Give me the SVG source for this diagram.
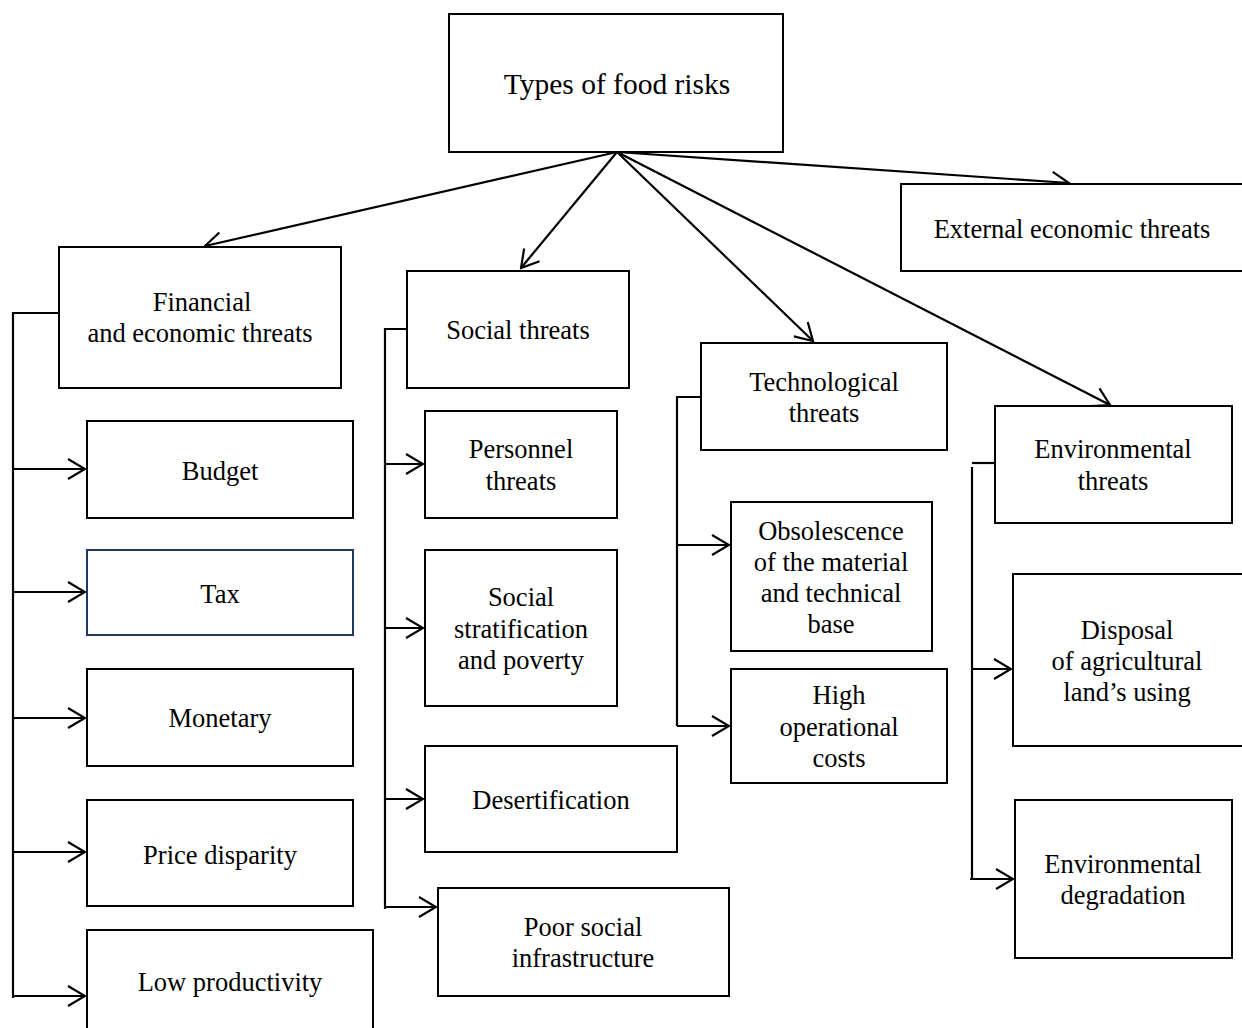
<svg xmlns="http://www.w3.org/2000/svg" width="1242" height="1028" viewBox="0 0 1242 1028">
<style>
.box{fill:#fff;stroke:#000;stroke-width:2}
.tax{fill:#fff;stroke:#1f3864;stroke-width:2}
text{font-family:'Liberation Serif','Tinos','DejaVu Serif',serif;font-size:26.5px;fill:#000;text-anchor:middle}
.title{font-size:29.5px}
.ln{stroke:#000;stroke-width:2.2;fill:none}
.ar{stroke:#000;stroke-width:2.2;fill:none;marker-end:url(#ah)}
</style>
<defs>
<marker id="ah" viewBox="0 0 20 22" markerWidth="20" markerHeight="22" refX="18" refY="11" orient="auto" markerUnits="userSpaceOnUse">
<path d="M1,1 L18,11 L1,21" fill="none" stroke="#000" stroke-width="2.2"/>
</marker>
</defs>
<rect width="1242" height="1028" fill="#fff"/>

<g id="connectors">
<line class="ar" x1="617" y1="152" x2="205" y2="246"/>
<line class="ar" x1="617" y1="152" x2="521" y2="268"/>
<line class="ar" x1="617" y1="152" x2="813" y2="341"/>
<line class="ar" x1="617" y1="152" x2="1110" y2="405"/>
<line class="ar" x1="617" y1="152" x2="1069" y2="183"/>

<polyline class="ln" points="59,313 13,313 13,998"/>
<line class="ar" x1="13" y1="469" x2="85" y2="469"/>
<line class="ar" x1="13" y1="592" x2="85" y2="592"/>
<line class="ar" x1="13" y1="718" x2="85" y2="718"/>
<line class="ar" x1="13" y1="852" x2="85" y2="852"/>
<line class="ar" x1="13" y1="996" x2="85" y2="996"/>

<polyline class="ln" points="407,329 385,329 385,909"/>
<line class="ar" x1="385" y1="464" x2="423" y2="464"/>
<line class="ar" x1="385" y1="628" x2="423" y2="628"/>
<line class="ar" x1="385" y1="799" x2="423" y2="799"/>
<line class="ar" x1="385" y1="907" x2="436" y2="907"/>

<polyline class="ln" points="701,397 677,397 677,726"/>
<line class="ar" x1="677" y1="545" x2="729" y2="545"/>
<line class="ar" x1="677" y1="726" x2="729" y2="726"/>

<line class="ln" x1="972" y1="463" x2="997" y2="463"/>
<line class="ln" x1="972" y1="467" x2="972" y2="879"/>
<line class="ar" x1="972" y1="669" x2="1011" y2="669"/>
<line class="ar" x1="970" y1="879" x2="1013" y2="879"/>
</g>

<g id="n-root"><rect class="box" x="449" y="14" width="334" height="138"/><text class="title" x="617" y="94">Types of food risks</text></g>
<g id="n-external"><rect class="box" x="901" y="184" width="360" height="87"/><text x="1072" y="238">External economic threats</text></g>
<g id="n-financial"><rect class="box" x="59" y="247" width="282" height="141"/><text x="202" y="311">Financial</text><text x="200" y="342">and economic threats</text></g>
<g id="n-social"><rect class="box" x="407" y="271" width="222" height="117"/><text x="518" y="339">Social threats</text></g>
<g id="n-tech"><rect class="box" x="701" y="343" width="246" height="107"/><text x="824" y="391">Technological</text><text x="824" y="422">threats</text></g>
<g id="n-env"><rect class="box" x="995" y="406" width="237" height="117"/><text x="1113" y="458">Environmental</text><text x="1113" y="490">threats</text></g>

<g id="n-budget"><rect class="box" x="87" y="421" width="266" height="97"/><text x="220" y="480">Budget</text></g>
<g id="n-tax"><rect class="tax" x="87" y="550" width="266" height="85"/><text x="220" y="603">Tax</text></g>
<g id="n-monetary"><rect class="box" x="87" y="669" width="266" height="97"/><text x="220" y="727">Monetary</text></g>
<g id="n-price"><rect class="box" x="87" y="800" width="266" height="106"/><text x="220" y="864">Price disparity</text></g>
<g id="n-lowprod"><rect class="box" x="87" y="930" width="286" height="120"/><text x="230" y="991">Low productivity</text></g>

<g id="n-personnel"><rect class="box" x="425" y="411" width="192" height="107"/><text x="521" y="458">Personnel</text><text x="521" y="490">threats</text></g>
<g id="n-strat"><rect class="box" x="425" y="550" width="192" height="156"/><text x="521" y="606">Social</text><text x="521" y="638">stratification</text><text x="521" y="669">and poverty</text></g>
<g id="n-desert"><rect class="box" x="425" y="746" width="252" height="106"/><text x="551" y="809">Desertification</text></g>
<g id="n-poor"><rect class="box" x="438" y="888" width="291" height="108"/><text x="583" y="936">Poor social</text><text x="583" y="967">infrastructure</text></g>

<g id="n-obsol"><rect class="box" x="731" y="502" width="201" height="149"/><text x="831" y="540">Obsolescence</text><text x="831" y="571">of the material</text><text x="831" y="602">and technical</text><text x="831" y="633">base</text></g>
<g id="n-high"><rect class="box" x="731" y="669" width="216" height="114"/><text x="839" y="704">High</text><text x="839" y="736">operational</text><text x="839" y="767">costs</text></g>

<g id="n-disposal"><rect class="box" x="1013" y="574" width="250" height="172"/><text x="1127" y="639">Disposal</text><text x="1127" y="670">of agricultural</text><text x="1127" y="701">land’s using</text></g>
<g id="n-envdeg"><rect class="box" x="1015" y="800" width="217" height="158"/><text x="1123" y="873">Environmental</text><text x="1123" y="904">degradation</text></g>
</svg>
